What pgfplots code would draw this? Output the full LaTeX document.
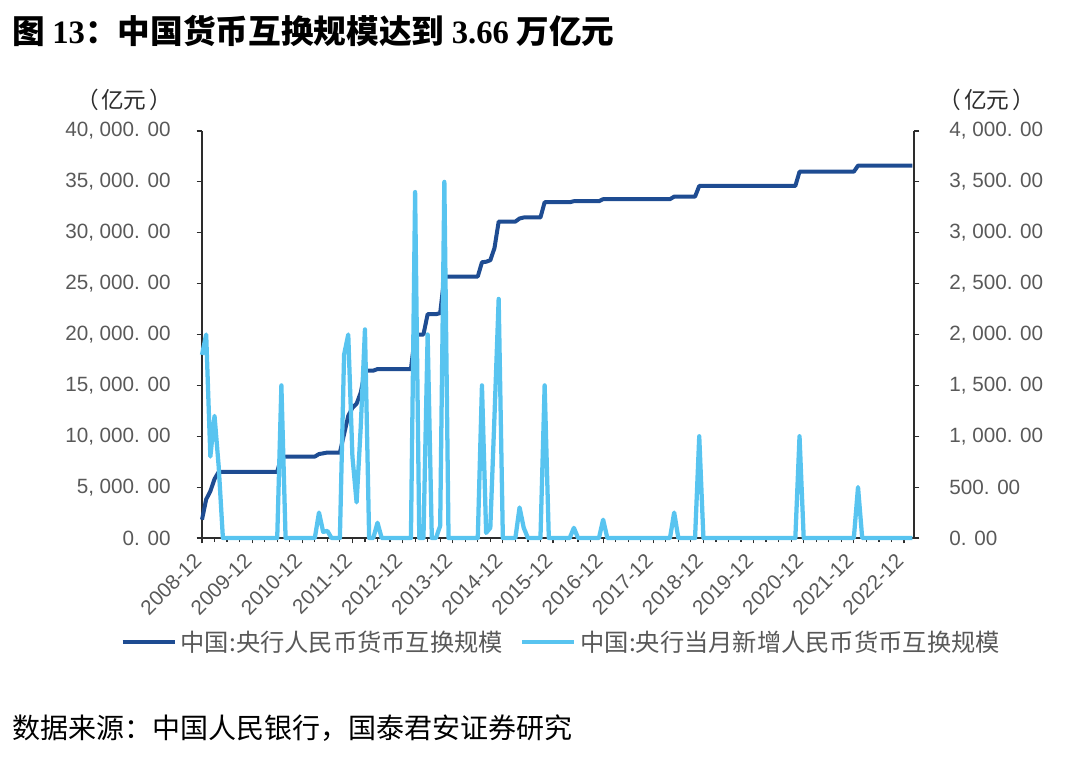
\documentclass[border=0pt]{standalone}
\usepackage{fontspec}
\setmainfont{Liberation Sans}
\newfontfamily\cjk{Noto Sans CJK SC}
\newfontfamily\tnr{Liberation Serif}
\usepackage{pgfplots}
\pgfplotsset{compat=1.18}

\definecolor{darkblue}{RGB}{30,76,146}
\definecolor{lightblue}{RGB}{88,196,240}
\definecolor{axisgray}{RGB}{45,45,45}
\definecolor{labgray}{RGB}{89,89,89}

\pgfplotsset{
  common/.style={
    at={(151.5pt,-403.5pt)}, anchor=south west,
    scale only axis, width=534pt, height=305.25pt,
    xmin=0, xmax=170.4,
    xtick={0,12,...,168},
    minor xtick={0,3,...,168},
    tick align=outside,
    major tick length=4pt, minor tick length=3pt,
    tick style={axisgray, line width=0.9pt},
    axis line style={axisgray, line width=1.1pt},
    ticklabel style={font=\fontsize{15.5}{18}\selectfont, text=labgray},
    scaled y ticks=false,
    clip=false,
  },
  darkline/.style={darkblue, line width=3pt, line join=round, no markers},
  lightline/.style={lightblue, line width=3.2pt, line join=round, no markers},
}

\begin{document}
\begin{tikzpicture}
\path[use as bounding box] (0,0) rectangle (810pt,-571.5pt);

% left axis: cumulative swap stock
\begin{axis}[common,
  axis x line*=bottom, axis y line*=left,
  ymin=0, ymax=40000,
  ytick={0,5000,...,40000},
  yticklabels={{0. 00},{5, 000. 00},{10, 000. 00},{15, 000. 00},{20, 000. 00},{25, 000. 00},{30, 000. 00},{35, 000. 00},{40, 000. 00}},
  yticklabel style={xshift=-16pt},
  xticklabels={2008-12,2009-12,2010-12,2011-12,2012-12,2013-12,2014-12,2015-12,2016-12,2017-12,2018-12,2019-12,2020-12,2021-12,2022-12},
  xticklabel style={xshift=-7pt, yshift=-5pt, rotate=45, anchor=north east, inner sep=1pt},
]
\addplot[darkline] coordinates {
(0,1800) (1,3800) (2,4600) (3,5800) (4,6500) (18,6500) (19,8000) (27,8000)
(28,8250) (29,8320) (30,8400) (33,8400) (34,10200) (35,12000) (36,12800)
(37,13200) (38,14300) (39,16450) (41,16450) (42,16600) (50,16600) (51,20000)
(53,20000) (54,22000) (56,22000) (57,22100) (58,25700) (66,25700) (67,27100)
(68,27150) (69,27300) (70,28500) (71,31100) (75,31100) (76,31400) (77,31500)
(81,31500) (82,33000) (88,33000) (89,33100) (95,33100) (96,33300) (112,33300)
(113,33550) (118,33550) (119,34600) (142,34600) (143,36000) (156,36000)
(157,36600) (170,36600)
};
\end{axis}

% right axis: monthly new swaps
\begin{axis}[common,
  axis x line=none, axis y line*=right,
  ymin=0, ymax=4000,
  ytick={0,500,...,4000},
  yticklabels={{0. 00},{500. 00},{1, 000. 00},{1, 500. 00},{2, 000. 00},{2, 500. 00},{3, 000. 00},{3, 500. 00},{4, 000. 00}},
  yticklabel style={xshift=19pt},
  legend style={at={(0.506,-0.2555)}, anchor=center, draw=none, fill=none,
    legend columns=2, font=\cjk\fontsize{18.2}{21}\selectfont, text=labgray,
    nodes={inner sep=3pt},
    /tikz/every even column/.append style={column sep=10pt}},
  legend image code/.code={\draw[#1] (0pt,0pt) -- (39pt,0pt);},
]
\addlegendimage{darkline}
\addlegendentry{中国:央行人民币货币互换规模}
\addplot[lightline] coordinates {
(0,1800) (1,2000) (2,800) (3,1200) (4,700) (5,0) (18,0) (19,1500) (20,0) (27,0)
(28,250) (29,60) (30,70) (31,0) (33,0) (34,1800) (35,2000) (36,800) (37,350)
(38,1100) (39,2050) (40,0) (41,0) (42,150) (43,0) (50,0) (51,3400) (52,0) (53,0)
(54,2000) (55,0) (56,0) (57,120) (58,3500) (59,0) (66,0) (67,1500) (68,50)
(69,100) (70,1200) (71,2350) (72,0) (75,0) (76,300) (77,100) (78,0) (81,0)
(82,1500) (83,0) (88,0) (89,100) (90,0) (95,0) (96,180) (97,0) (112,0) (113,250)
(114,0) (118,0) (119,1000) (120,0) (142,0) (143,1000) (144,0) (156,0) (157,500)
(158,0) (170,0)
};
\addlegendentry{中国:央行当月新增人民币货币互换规模}
\end{axis}

\node[anchor=base west, inner sep=0] at (9pt,-33pt)
  {\fontsize{24.5}{28}\selectfont\bfseries\cjk 图 {\tnr\bfseries 13}：中国货币互换规模达到 {\tnr\bfseries 3.66} 万亿元};
\node[inner sep=0, text=axisgray] at (93pt,-75pt) {\cjk\fontsize{17}{20}\selectfont （\hspace{2pt}亿元\hspace{2pt}）};
\node[inner sep=0, text=axisgray] at (740pt,-75pt) {\cjk\fontsize{17}{20}\selectfont （\hspace{2pt}亿元\hspace{2pt}）};
\node[anchor=base west, inner sep=0] at (9pt,-554pt)
  {\cjk\fontsize{21}{25}\selectfont 数据来源：中国人民银行，国泰君安证券研究};
\end{tikzpicture}
\end{document}
